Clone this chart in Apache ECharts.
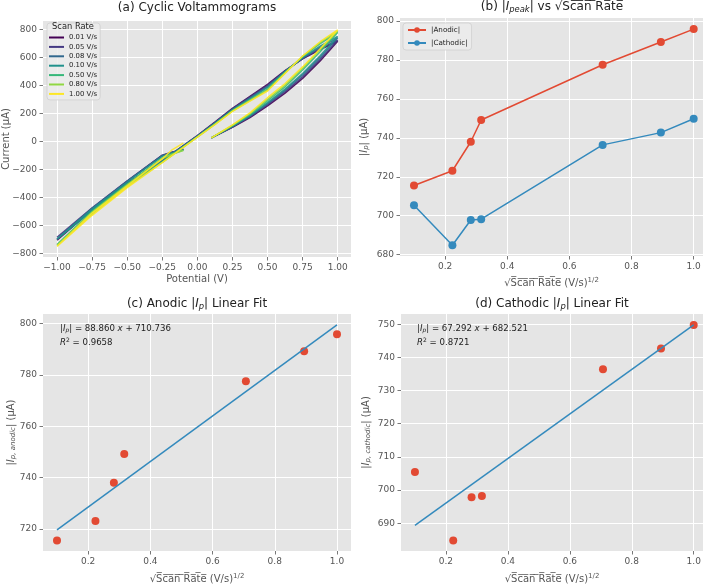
<!DOCTYPE html>
<html>
<head>
<meta charset="utf-8">
<script src="https://cdn.jsdelivr.net/npm/echarts@6/dist/echarts.min.js"></script>
<style>
html, body { margin: 0; padding: 0; background: #fff; }
#chart { width: 708px; height: 584px; }
</style>
</head>
<body>
<div id="chart"></div>
<script>
const FONT = 'DejaVu Sans'

// scan rates and their viridis colours
const scanRates = ['0.01 V/s', '0.05 V/s', '0.08 V/s', '0.10 V/s', '0.50 V/s', '0.80 V/s', '1.00 V/s']
const rateColors = ['#440154', '#443983', '#31688e', '#21918c', '#35b779', '#90d743', '#fde725']

// potentials (V) of the three legs of each sweep
const fwdE = [0.1, 0.25, 0.375, 0.5, 0.625, 0.75, 0.875, 1.0]
const revE = [1.0, 0.875, 0.75, 0.625, 0.5, 0.375, 0.25, 0.125, 0, -0.25, -0.5, -0.75, -1.0]
const retE = [-1.0, -0.75, -0.5, -0.25, -0.18, -0.1]

// currents (uA), one row per scan rate
const fwdI = [
	[25, 100, 170, 253, 345, 450, 575, 715.5],
	[25, 103, 175, 262, 355, 462, 586, 723.1],
	[25, 106, 180, 270, 365, 475, 600, 738.0],
	[25, 108, 184, 277, 373, 485, 612, 749.2],
	[25, 112, 192, 290, 390, 510, 640, 777.6],
	[25, 115, 198, 300, 402, 522, 654, 789.3],
	[25, 118, 204, 312, 413, 532, 662, 795.9]
]
const revI = [
	[715.5, 655, 590, 505, 408, 322, 236, 138, 42, -140, -300, -490, -705.4],
	[723.1, 662, 592, 503, 400, 316, 232, 135, 40, -138, -298, -485, -684.8],
	[738.0, 672, 595, 500, 392, 310, 228, 132, 38, -140, -302, -490, -697.8],
	[749.2, 680, 598, 498, 385, 304, 225, 129, 36, -142, -305, -495, -698.2],
	[777.6, 698, 605, 492, 374, 296, 220, 125, 33, -148, -318, -512, -736.4],
	[789.3, 706, 608, 489, 367, 292, 217, 122, 31, -150, -324, -520, -742.7],
	[795.9, 712, 610, 486, 360, 288, 214, 120, 30, -152, -330, -528, -749.8]
]
const retI = [
	[-705.4, -480, -285, -100, -78, -55],
	[-684.8, -475, -282, -98, -78, -57],
	[-697.8, -478, -286, -102, -80, -58],
	[-698.2, -482, -290, -106, -83, -60],
	[-736.4, -500, -305, -118, -90, -62],
	[-742.7, -505, -310, -122, -92, -65],
	[-749.8, -512, -318, -125, -60, -12]
]

// peak currents vs sqrt(scan rate)
const sqrtRate = [0.1, 0.2236, 0.2828, 0.3162, 0.7071, 0.8944, 1.0]
const anodicPeak = [715.5, 723.1, 738.0, 749.2, 777.6, 789.3, 795.9]
const cathodicPeak = [705.4, 684.8, 697.8, 698.2, 736.4, 742.7, 749.8]

// fitted lines (end points)
const fitX = [0.1, 1.0]
const anodicFit = [719.6, 799.6]
const cathodicFit = [689.3, 749.8]

// tick labels
const ticksE = [-1, -0.75, -0.5, -0.25, 0, 0.25, 0.5, 0.75, 1]
const ticksI = [-800, -600, -400, -200, 0, 200, 400, 600, 800]
const ticksRoot = [0.2, 0.4, 0.6, 0.8, 1.0]
const ticksPeak = [680, 700, 720, 740, 760, 780, 800]
const ticksAnodic = [720, 740, 760, 780, 800]
const ticksCathodic = [690, 700, 710, 720, 730, 740, 750]

const pairs = (xs, ys) => xs.map((x, i) => [x, ys[i]])
const fmt = d => v => v.toFixed(d).replace('-', '\u2212')
const over = s => s.split('').map(c => c + '\u0305').join('')

const mathRich = size => ({
	i: { fontStyle: 'italic', fontSize: size, fontFamily: FONT },
	sub: { fontStyle: 'italic', fontSize: size * 0.7, fontFamily: FONT, padding: [size * 0.5, 0, 0, 0] },
	sup: { fontSize: size * 0.7, fontFamily: FONT, padding: [0, 0, size * 0.6, 0] }
})

const grids = [
	{ left: 43, top: 21, width: 308, height: 236 },
	{ left: 400, top: 18, width: 303, height: 238 },
	{ left: 43, top: 314, width: 308, height: 237 },
	{ left: 401, top: 314, width: 302, height: 237 }
].map(g => Object.assign(g, { show: true, backgroundColor: '#E5E5E5', borderWidth: 0, outerBoundsMode: 'none' }))

const axis = (gi, min, max, ticks, digits, name, gap) => ({
	type: 'value', gridIndex: gi, min, max,
	axisLine: { show: false, onZero: false },
	axisTick: { show: true, customValues: ticks, length: 3.5, lineStyle: { color: '#555', width: 0.8 } },
	axisLabel: { customValues: ticks, color: '#555', fontSize: 9, fontFamily: FONT, margin: 6, formatter: fmt(digits) },
	splitLine: { show: true, lineStyle: { color: '#fff', width: 1 } },
	name, nameLocation: 'middle', nameGap: gap, nameMoveOverlap: false,
	nameTextStyle: { color: '#555', fontSize: 10, fontFamily: FONT, rich: mathRich(10) }
})

const rootName = '\u221a' + over('Scan Rate') + ' (V/s){sup|1/2}'

const xAxis = [
	axis(0, -1.1, 1.095, ticksE, 2, 'Potential (V)', 17),
	axis(1, 0.055, 1.03, ticksRoot, 1, rootName, 21),
	axis(2, 0.055, 1.045, ticksRoot, 1, rootName, 22),
	axis(3, 0.055, 1.03, ticksRoot, 1, rootName, 22)
]
const yAxis = [
	axis(0, -826, 860, ticksI, 0, 'Current (\u03bcA)', 32),
	axis(1, 679.3, 801.6, ticksPeak, 0, '|{i|I}{sub|p}| (\u03bcA)', 30),
	axis(2, 711.4, 803.8, ticksAnodic, 0, '|{i|I}{sub|p, anodic}| (\u03bcA)', 26),
	axis(3, 681.6, 753.1, ticksCathodic, 0, '|{i|I}{sub|p, cathodic}| (\u03bcA)', 29)
]

const series = []
scanRates.forEach((name, k) => {
	series.push({
		type: 'line', name, xAxisIndex: 0, yAxisIndex: 0,
		symbol: 'none', smooth: false,
		data: pairs(fwdE, fwdI[k]).concat(pairs(revE, revI[k]), pairs(retE, retI[k])),
		lineStyle: { color: rateColors[k], width: 1.5, opacity: 0.9 },
		itemStyle: { color: rateColors[k] }
	})
})

series.push({
	type: 'line', name: '|Anodic|', xAxisIndex: 1, yAxisIndex: 1,
	data: pairs(sqrtRate, anodicPeak), symbol: 'circle', symbolSize: 8,
	lineStyle: { color: '#E24A33', width: 1.5 }, itemStyle: { color: '#E24A33' }
})
series.push({
	type: 'line', name: '|Cathodic|', xAxisIndex: 1, yAxisIndex: 1,
	data: pairs(sqrtRate, cathodicPeak), symbol: 'circle', symbolSize: 8,
	lineStyle: { color: '#348ABD', width: 1.5 }, itemStyle: { color: '#348ABD' }
})

const fitPanels = [[2, anodicPeak, anodicFit], [3, cathodicPeak, cathodicFit]]
fitPanels.forEach(([gi, peaks, fit]) => {
	series.push({
		type: 'scatter', xAxisIndex: gi, yAxisIndex: gi, data: pairs(sqrtRate, peaks),
		symbolSize: 8, itemStyle: { color: '#E24A33', opacity: 1 }
	})
	series.push({
		type: 'line', xAxisIndex: gi, yAxisIndex: gi, data: pairs(fitX, fit),
		symbol: 'none', lineStyle: { color: '#348ABD', width: 1.5 }
	})
})

const titleStyle = { color: '#222', fontSize: 12, fontWeight: 'normal', fontFamily: FONT, rich: mathRich(12) }
const noteStyle = { color: '#222', fontSize: 8.6, fontWeight: 'normal', fontFamily: FONT, rich: mathRich(8.6) }

const title = [
	{ text: '(a) Cyclic Voltammograms', left: 197, top: 2, textAlign: 'center', textStyle: titleStyle, padding: 0 },
	{ text: '(b) |{i|I}{sub|peak}| vs \u221a' + over('Scan Rate'), left: 552, top: 0, textAlign: 'center', textStyle: titleStyle, padding: 0 },
	{ text: '(c) Anodic |{i|I}{sub|p}| Linear Fit', left: 197, top: 297, textAlign: 'center', textStyle: titleStyle, padding: 0 },
	{ text: '(d) Cathodic |{i|I}{sub|p}| Linear Fit', left: 552, top: 297, textAlign: 'center', textStyle: titleStyle, padding: 0 },
	{ text: 'Scan Rate', left: 73, top: 23, textAlign: 'center', z: 10, padding: 0,
		textStyle: { color: '#222', fontSize: 8.3, fontWeight: 'normal', fontFamily: FONT } },
	{ text: '|{i|I}{sub|p}| = 88.860 {i|x} + 710.736', left: 60, top: 323.5, padding: 0, textStyle: noteStyle },
	{ text: '{i|R}{sup|2} = 0.9658', left: 60, top: 337, padding: 0, textStyle: noteStyle },
	{ text: '|{i|I}{sub|p}| = 67.292 {i|x} + 682.521', left: 417, top: 323.5, padding: 0, textStyle: noteStyle },
	{ text: '{i|R}{sup|2} = 0.8721', left: 417, top: 337, padding: 0, textStyle: noteStyle }
]

const legend = [
	{
		data: scanRates.map(name => ({ name, icon: 'rect' })), orient: 'vertical', left: 47, top: 23,
		padding: [11, 3, 2.5, 2], itemGap: 2.4, itemWidth: 15, itemHeight: 2,
		textStyle: { fontSize: 6.9, color: '#222', fontFamily: FONT },
		backgroundColor: 'rgba(236,236,236,0.85)', borderColor: '#cfcfcf', borderWidth: 0.8, borderRadius: 3
	},
	{
		data: ['|Anodic|', '|Cathodic|'], orient: 'vertical', left: 403, top: 23,
		padding: [3.5, 4, 3.5, 4], itemGap: 6, itemWidth: 18, itemHeight: 7,
		textStyle: { fontSize: 7.2, color: '#222', fontFamily: FONT },
		backgroundColor: 'rgba(236,236,236,0.85)', borderColor: '#cfcfcf', borderWidth: 0.8, borderRadius: 3
	}
]

const chart = echarts.init(document.getElementById('chart'), null, { renderer: 'canvas' })
chart.setOption({
	animation: false,
	backgroundColor: '#fff',
	textStyle: { fontFamily: FONT },
	title, legend, grid: grids, xAxis, yAxis, series
})
</script>
</body>
</html>
